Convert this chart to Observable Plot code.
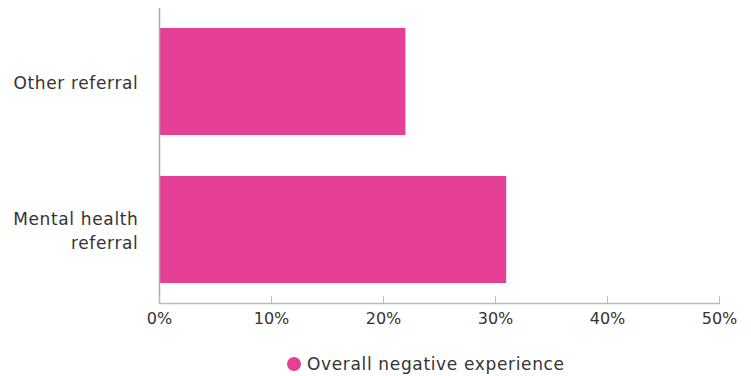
<!DOCTYPE html>
<html>
<head>
<meta charset="utf-8">
<script src="https://cdn.jsdelivr.net/npm/d3@7"></script>
<script src="https://cdn.jsdelivr.net/npm/@observablehq/plot@0.6"></script>
<style>
  html, body { margin: 0; padding: 0; background: #fff; }
  body { width: 751px; height: 376px; overflow: hidden; font-family: "DejaVu Sans", sans-serif; }
  #legend { display: flex; justify-content: flex-start; align-items: center; height: 31px; margin-top: 3px; padding-left: 287px; font-size: 17px; letter-spacing: 0.65px; color: #333; }
  #legend .dot { width: 14px; height: 14px; border-radius: 50%; display: inline-block; margin-right: 6px; }
  .ylab text { letter-spacing: 0.65px; }
</style>
</head>
<body>
<div id="chart"></div>
<div id="legend"></div>
<script>
const categories = ["Other referral", "Mental health referral"];
const categoryLabels = ["Other referral", "Mental health\nreferral"];
const values = [22, 31];
const seriesName = "Overall negative experience";
const xTicks = [0, 10, 20, 30, 40, 50];
const barColor = "#e64096";

const data = categories.map((c, i) => ({category: c, value: values[i]}));
const labelMap = new Map(categories.map((c, i) => [c, categoryLabels[i]]));

const chart = Plot.plot({
  width: 751,
  height: 345,
  marginLeft: 159,
  marginRight: 32,
  marginTop: 8,
  marginBottom: 42,
  style: {fontFamily: "DejaVu Sans, sans-serif", fontSize: "16px", color: "#333", background: "#fff"},
  x: {domain: [0, 50]},
  y: {domain: categories, paddingInner: 0.277, paddingOuter: 0.135},
  marks: [
    Plot.barX(data, {x: "value", y: "category", fill: barColor}),
    Plot.ruleX([0], {stroke: "#aaa", strokeWidth: 1.5}),
    Plot.frame({anchor: "bottom", stroke: "#bbb", strokeWidth: 1.5}),
    Plot.axisX({ticks: xTicks, tickSize: 7, dy: -7, tickPadding: 9, tickFormat: d => d + "%", stroke: "#bbb", fill: "#333", fontSize: 16, label: null}),
    Plot.axisY({tickSize: 0, tickPadding: 21, tickFormat: d => labelMap.get(d), fill: "#333", fontSize: 17, lineHeight: 1.42, dy: -1, label: null, className: "ylab"})
  ]
});
document.getElementById("chart").appendChild(chart);

const legend = document.getElementById("legend");
legend.innerHTML = `<span class="dot" style="background:${barColor}"></span><span>${seriesName}</span>`;
</script>
</body>
</html>
